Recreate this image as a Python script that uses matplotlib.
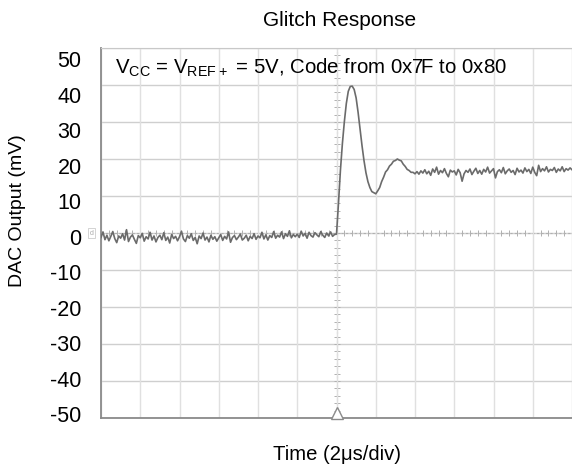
import numpy as np
import matplotlib
matplotlib.use('Agg')
import matplotlib.pyplot as plt

plt.rcParams['font.family'] = ['Liberation Sans', 'DejaVu Sans']
plt.rcParams['axes.unicode_minus'] = False

# trace, 0.1 us per sample, 2 us/div
t_step = 0.1
pre_step = [
	-1.2, 0.3, -1.8, -0.6, -2.1, -0.9, 0.4, -1.5, -2.6, -0.8,
	-1.4, -0.2, -1.9, 0.9, -2.3, -1.1, -0.5, -1.7, -2.8, -0.7,
	-1.3, -0.1, -2.2, -1.0, -1.6, 0.2, -1.9, -0.8, -2.4, -1.2,
	-0.6, -1.8, 0.1, -2.0, -1.1, -2.7, -0.4, -1.5, -0.9, -2.1,
	-1.0, 0.5, -1.6, -2.3, -0.7, -1.4, -0.2, -2.0, -1.2, -2.9,
	-0.8, -1.5, 0.0, -1.9, -1.1, -2.4, -0.6, -1.7, -1.0, -2.2,
	-1.3, -0.4, -2.0, -0.9, -1.6, 0.3, -2.5, -1.2, -0.7, -1.8,
	-1.1, -0.3, -1.9, -1.4, -0.6, -2.1, -0.9, -1.5, -0.2, -1.7,
	-0.8, -1.3, 0.2, -1.6, -0.5, -1.9, -0.7, -1.2, 0.4, -1.4,
	-0.6, -1.1, 0.3, -1.5, -0.2, -0.9, 0.6, -1.3, -0.4, -1.0,
	-0.3, -1.2, 0.5, -0.8, -0.1, -1.4, 0.2, -0.7, -1.1, 0.1,
	-0.5, -1.0, 0.4, -0.6, -1.2, 0.0, -0.8, 0.3, -0.9, -0.4,
]
post_step = [
	-0.3, 8.0, 17.0, 24.2, 30.1, 35.0, 38.3, 39.6, 39.7, 38.8,
	36.5, 32.6, 28.0, 23.6, 19.6, 16.3, 13.9, 12.3, 11.2, 10.9,
	10.6, 11.4, 12.3, 13.9, 15.1, 16.5, 17.1, 18.1, 18.6, 19.4,
	19.6, 20.0, 19.7, 19.5, 18.6, 18.0, 17.2, 16.9, 16.4, 16.4,
	16.0, 16.6, 15.9, 16.8, 16.2, 17.1, 16.0, 16.7, 15.6, 17.3,
	16.4, 17.8, 15.9, 16.9, 16.3, 17.4, 16.1, 15.2, 17.0, 16.5,
	16.8, 15.7, 17.2, 16.3, 14.0, 16.0, 16.9, 16.4, 17.3, 15.8,
	16.7, 17.5, 16.1, 16.9, 15.9, 17.2, 16.5, 17.8, 16.2, 16.8,
	17.4, 14.9, 16.6, 17.1, 16.3, 17.7, 16.0, 16.8, 17.3, 16.4,
	16.9, 15.8, 17.5, 16.5, 17.0, 16.2, 17.6, 16.6, 17.2, 16.1,
	17.8, 16.4, 15.5, 18.3, 16.6, 17.4, 16.8, 17.9, 16.5, 17.2,
	16.9, 17.7, 16.4, 17.3, 16.8, 17.9, 16.6, 17.4, 17.0, 17.6,
	17.1,
]
yvals = [50, 40, 30, 20, 10, 0, -10, -20, -30, -40, -50]
ylabels = [str(v) for v in yvals]

def plot_glitch():
	volts = np.array(pre_step + post_step)
	t = (np.arange(len(volts)) - len(pre_step)) * t_step

	fig = plt.figure(figsize=(5.72, 4.68), dpi=100)
	ax = fig.add_axes([0.1766, 0.1068, 0.8234, 0.7906])

	#grid
	for v in yvals:
		ax.axhline(v, color='#cfcfcf', lw=1.0, zorder=0)
	ax.set_xticks(np.arange(-12, 13, 2))
	ax.set_xticklabels([])
	ax.grid(axis='x', color='#e0e0e0', lw=1.0, zorder=0)

	#centre crosshair with minor marks
	ax.axvline(0, color='#b0b0b0', lw=0.8, ls=(0, (2, 2)), zorder=1)
	ax.axhline(0, color='#b0b0b0', lw=0.8, ls=(0, (2, 2)), zorder=1)
	ym = np.arange(-50, 51, 2)
	ax.plot(np.zeros(len(ym)), ym, ls='none', marker='_', ms=4, mew=0.7, color='#b0b0b0', zorder=1)
	xm = np.arange(-12, 12.01, 0.4)
	ax.plot(xm, np.zeros(len(xm)), ls='none', marker='|', ms=4, mew=0.7, color='#b0b0b0', zorder=1)

	#trace
	ax.plot(t, volts, color='#6b6b6b', lw=1.2, zorder=3)

	#trigger marker and channel tag
	ax.plot([0], [-48.6], marker='^', ms=9, mfc='white', mec='#8a8a8a', mew=1.0, clip_on=False, zorder=4)
	ax.text(-0.02, 0, 'd', transform=ax.get_yaxis_transform(), fontsize=5, color='#aaaaaa',
		ha='center', va='center', bbox=dict(boxstyle='square,pad=0.2', fc='white', ec='#cccccc', lw=0.6))

	ax.set_xlim(-12, 12)
	ax.set_ylim(-50, 50)
	# the scope labels sit a little off the graticule
	ax.set_yticks([v * 0.96 - 1 for v in yvals])
	ax.set_yticklabels(ylabels)
	ax.tick_params(axis='y', length=0, pad=14, labelsize=15.5)
	ax.tick_params(axis='x', length=0)

	for s in ['left', 'bottom']:
		ax.spines[s].set_color('#8a8a8a')
		ax.spines[s].set_linewidth(1.3)
	ax.spines['top'].set_color('#c8c8c8')
	ax.spines['right'].set_visible(False)

	ax.text(0.03, 0.930, r'V$_{\mathregular{CC}}$ = V$_{\mathregular{REF+}}$ = 5V, Code from 0x7F to 0x80',
		transform=ax.transAxes, fontsize=14.7, ha='left', va='baseline')

	fig.text(340/572., 1-20/468., 'Glitch Response', ha='center', va='center', fontsize=15)
	fig.text(337/572., 1-454/468., u'Time (2\u03bcs/div)', ha='center', va='center', fontsize=14.6)
	fig.text(18/572., 1-211/468., 'DAC Output (mV)', ha='center', va='center', rotation=90, fontsize=14)

	plt.savefig('out.png', dpi=100)

if __name__ == "__main__":
	plot_glitch()
